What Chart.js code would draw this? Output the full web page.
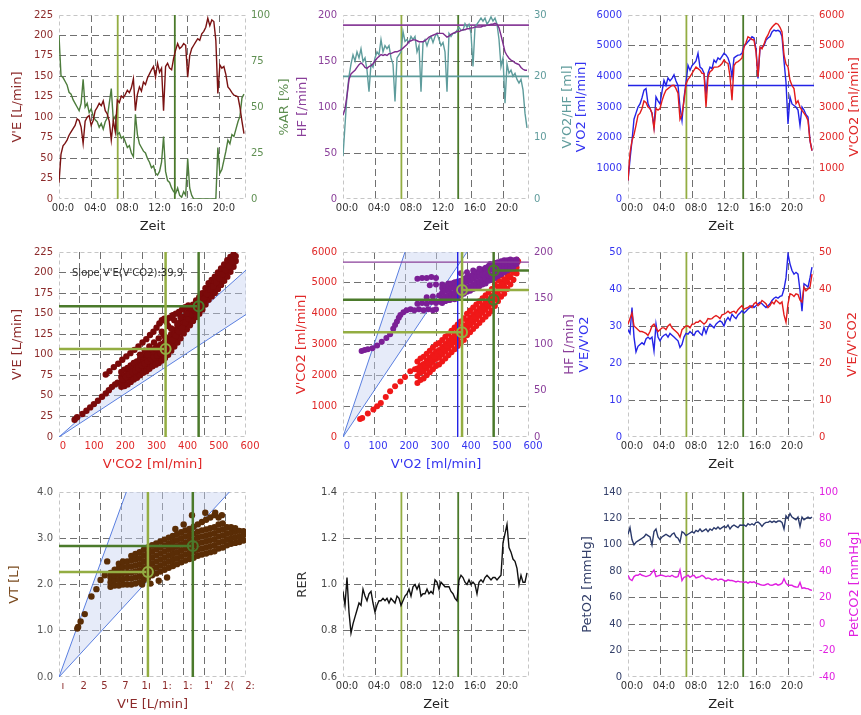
<!DOCTYPE html>
<html>
<head>
<meta charset="utf-8">
<script src="https://cdn.jsdelivr.net/npm/chart.js@4/dist/chart.umd.min.js"></script>
<style>
  body { margin: 0; width: 861px; height: 715px; overflow: hidden; position: relative; background: #fff; }
  canvas { position: absolute; }
</style>
</head>
<body>
<canvas id="p1"></canvas><canvas id="p2"></canvas><canvas id="p3"></canvas>
<canvas id="p4"></canvas><canvas id="p5"></canvas><canvas id="p6"></canvas>
<canvas id="p7"></canvas><canvas id="p8"></canvas><canvas id="p9"></canvas>
<script>
// time in minutes
const times = [0,0.25,0.5,0.75,1,1.25,1.5,1.75,2,2.25,2.5,2.75,3,3.25,3.5,3.75,4,4.25,4.5,4.75,5,5.25,5.5,5.75,6,6.25,6.5,6.75,7,7.25,7.5,7.75,8,8.25,8.5,8.75,9,9.25,9.5,9.75,10,10.25,10.5,10.75,11,11.25,11.5,11.75,12,12.25,12.5,12.75,13,13.25,13.5,13.75,14,14.25,14.5,14.75,15,15.25,15.5,15.75,16,16.25,16.5,16.75,17,17.25,17.5,17.75,18,18.25,18.5,18.75,19,19.25,19.5,19.75,20,20.25,20.5,20.75,21,21.25,21.5,21.75,22,22.25,22.5,22.75,23];

const ve = [20,55,65,68,72,78,82,86, 90,98,96,88,68,95,100,102, 90,96,108,112,117,114,120,108,
  104,95,72,96,82,121,118,126, 124,128,133,130,136,147,108,128, 137,132,143,140,148,153,158,162,
  149,166,155,160,108,162,166,160, 158,172,182,190,184,186,190,188, 149,175,184,188,192,196,194,202,
  205,210,221,212,219,217,194,129, 164,160,162,152,137,134,130,127, 126,125,112,95,80];
const ar = [89,67,66,64,62,58,57,54, 52,50,48,52,65,50,52,47, 49,45,43,42,39,41,38,42,
  44,52,60,43,45,35,36,33, 34,31,28,29,25,23,46,35, 30,28,26,25,22,20,17,18,
  14,13,15,20,34,15,10,9, 6,4,3,6,2,1,4,2, 22,6,2,0,0,0,0,0,
  0,0,0,0,0,0,0,28, 14,16,21,26,32,30,35,34, 38,42,45,55,57];
const hf = [91,98,112,130,136,138,140,143, 146,148,146,143,142,144,145,147, 150,153,155,157,156,157,156,158,
  158,159,160,160,161,162,164,166, 168,171,172,173,173,172,171,171, 171,172,174,176,177,178,179,180,
  180,180,180,178,176,177,179,180, 181,182,182,183,184,184,185,185, 186,186,187,187,187,187,188,188,
  189,189,190,190,191,190,186,178, 169,160,156,153,151,150,148,147, 146,143,141,140,140];
const vo2PerHf = [7,12,17,20,22,23.5,22.5,24, 23,24.5,22.4,23,21,17.5,22,21.5, 23,24,23.5,26,24,25,24.5,25,
  23,22,15.9,23,23.5,24,27.3,25.7, 26,25.5,26.5,26,26.5,24,25,17.5, 25.5,26,25,26,26.5,25.5,26.5,27,
  26,25,25.5,24,17.5,27,26.5,27, 27,27.5,28,27.5,27.5,28.6,28,28.5, 27,21.6,28,28.5,29,29.5,29,29.5,
  28.5,29,29.7,29,29.5,28.5,26,21.6, 23,15.6,22,20.5,21,20,20.5,19.5, 18.9,19.5,17.8,14,11.6];
const vo2 = [600,1300,1900,2600,2800,3000,3100,3300, 3550,3600,3110,2950,2800,2350,3330,3200,
  3100,3500,3870,3700,3950,3850,3930,4050, 3850,3700,3000,2560,3300,3800,4360,4200,
  4350,4420,4500,4750,4300,4250,4100,3400, 4100,4300,4250,4530,4450,4600,4550,4650,
  4750,4700,4600,4400,3980,4600,4650,4690, 4700,4750,5000,5050,5130,5200,5290,5250,
  4900,3930,4910,4950,5000,5180,5250,5300, 5450,5510,5480,5500,5460,5300,4500,3800,
  2450,3330,3100,3050,3000,2900,2400,3000, 2900,2750,2670,1900,1580];
const vco2 = [600,1500,1900,2100,2400,2730,2800,2950, 3200,3150,3000,2950,2800,2290,2950,2900,
  2950,3200,3400,3550,3600,3650,3700,3710, 3600,3450,2600,2750,3200,3750,3900,3980,
  4100,4200,4300,4250,4200,4100,4090,3000, 3980,4150,4200,4300,4300,4310,4350,4420,
  4530,4450,4420,4000,3220,4350,4450,4480, 4530,4600,4950,5100,5290,5250,5200,5180,
  4800,3980,4960,4900,5050,5240,5350,5510, 5600,5670,5730,5700,5600,5450,4700,4400,
  4310,3870,3700,3600,3110,3200,3000,2890, 2800,2700,2560,1900,1580];
const eqO2 = [29,28,35,27,23,24.5,25,25.5, 25,26.5,27,26.5,27,23.3,30.5,27, 26,27,27.5,27.8,27,28,27.5,27,
  26.5,26,24.2,25,27,28,27.8,28.5, 28,27.5,28.5,28.7,28,27.5,29.6,28, 29.6,30.5,30,29.5,30.5,31,31.4,31,
  30,31.5,32.3,31.5,33.2,32.5,32,33, 33.5,34.1,33.5,34,34.6,35,35.5,35, 35.5,36,36.4,36,35.5,35,35.5,36,
  36.9,37.5,37.8,37.5,38,38.2,40,43, 49.5,46.8,45,44,44.5,44,39.6,34, 41.4,41,40.5,43,45.9];
const eqCo2 = [30.5,32,33.5,30,29.5,29,28.5,28.5, 28.3,28,27.5,28.5,30,30.5,29.5,28.5, 29,29.5,29.5,29,30,30.5,29.5,29,
  28.5,28,27,29,29.5,30,30,29.5, 30.5,30.5,31,31,31.5,31,30.5,31, 32,31.9,32,32.5,32.8,32.5,32,33,
  33.2,33.5,34,33.5,33.8,34,33.5,34.4, 35,35.5,34.5,34.8,35,35.5,35,36, 36.4,35.5,36,36.9,36.5,36,35,35.5,
  36.5,36,37,36.5,36,36.5,33,31, 36,38.7,38.5,38,38.7,38.5,37,36.5, 40.5,39.5,40,40.5,44];
const rer = [0.97,0.91,1.03,0.88,0.79,0.83,0.86,0.89, 0.92,0.91,0.98,0.95,0.93,0.96,0.97,0.92,
  0.88,0.91,0.93,0.93,0.94,0.93,0.94,0.92, 0.94,0.93,0.92,0.95,0.94,0.91,0.93,0.95,
  0.96,0.98,0.95,0.99,1.00,0.98,1.00,0.95, 0.96,0.96,0.98,0.96,0.97,0.96,1.02,1.01,
  0.98,1.01,1.00,0.99,0.99,0.99,0.97,0.96, 0.94,0.93,1.02,1.04,1.03,1.01,1.00,1.02,
  1.00,1.01,1.00,0.96,1.01,1.02,1.01,1.03, 1.04,1.03,1.02,1.03,1.03,1.02,1.03,1.04,
  1.18,1.22,1.26,1.16,1.14,1.11,1.10,1.07, 1.00,1.04,1.01,1.01,1.05];
const petO2 = [108,113,104,100,102,103,104,105, 106,108,107,106,100,110,112,106, 104,106,107,108,107,106,108,109,
  106,105,102,110,109,107,108,109, 110,109,111,110,112,110,111,112, 110,112,111,113,112,113.5,112,113,
  114,113,115,112,114,115,114,113, 115,114.8,115,114,116,115,116,115, 117,117.3,116,114,116,117,117,118,
  117,118,117,118,118,117,112,122, 120,123.6,121,120,119,121,114,121, 119,120,121,120,121];
const petCo2 = [37,34,33,36,37,37,38,37, 36.5,36,36.5,37,39,41,36,36.5, 37,37,36.5,36,36.5,36,37,36,
  35.5,36,41,33,35.5,36,37,35.5, 36.5,37,35,35.5,36,37,36,34.4, 35,34.5,33.5,34,34.5,33.2,34,34,
  33,32.5,33.5,33,33,32.5,31.9,32.5, 32,32,31.5,32,31,32,31.5,32, 31,30.6,30,29.5,29.4,30,30.6,29.5,
  29.4,30,30.5,29.5,30,31,34.4,31, 29.4,29.5,29.4,28.5,28.1,28,31.5,27, 27.5,27,26.9,26,25.6];

// scatter clouds [x, y]
const veVsVco2 = [
  [50,21],[58,24],[75,28],[88,32],[100,36],[112,40],[125,44],[138,49],[150,53],[160,57],[170,61],[180,64],[188,66],
  [150,76],[162,80],[176,85],[190,89],[203,94],[216,98],[229,102],[242,106],[255,110],[268,115],[280,119],[292,124],[303,128],[313,133],[322,138],[330,142],[338,144],
  [200,61],[200,67],[200,73],[200,79],[210,62],[210,69],[210,75],[210,82],[220,64],[220,71],[220,77],[220,84],
  [230,67],[230,74],[230,80],[230,87],[240,70],[240,77],[240,83],[240,90],[250,72],[250,79],[250,85],[250,92],
  [260,75],[260,82],[260,88],[260,95],[270,78],[270,85],[270,91],[270,98],[280,80],[280,87],[280,93],[280,100],
  [290,83],[290,90],[290,96],[290,103],[300,86],[300,93],[300,99],[300,106],[310,88],[310,95],[310,101],[310,108],
  [320,90],[320,97],[320,103],[320,110],[330,93],[330,100],[330,106],[330,113],[340,96],[340,103],[340,109],[340,116],
  [350,100],[350,107],[350,113],[350,120],[360,105],[360,112],[360,118],[360,125],[370,110],[370,117],[370,123],[370,130],
  [380,115],[380,122],[380,128],[380,135],[390,120],[390,127],[390,133],[390,140],[400,126],[400,133],[400,139],[400,146],
  [410,131],[410,138],[410,144],[410,151],[420,136],[420,143],[420,149],[420,156],[430,141],[430,148],[430,154],[430,161],
  [440,146],[440,153],[440,159],[440,166],[450,150],[450,157],[450,163],[450,170],[460,155],[460,162],[460,168],[460,175],
  [470,161],[470,168],[470,174],[470,181],[480,167],[480,174],[480,180],[480,187],[490,171],[490,178],[490,184],[490,191],
  [500,175],[500,182],[500,188],[500,195],[510,180],[510,187],[510,193],[510,200],[520,185],[520,192],[520,198],[520,205],
  [530,190],[530,197],[530,203],[530,210],[540,195],[540,202],[540,208],[540,215],[550,201],[550,207],[550,213],[550,219],
  [560,207],[560,212],[560,218],[560,222],[567,214],[567,220],
  [205,70],[215,73],[225,76],[235,79],[245,81],[255,84],[265,87],[275,89],[285,92],[295,95],[305,97],[315,99],[325,102],
  [335,105],[345,108],[355,113],[365,118],[375,123],[385,128],[395,133],[405,139],[415,144],[425,149],[435,154],[445,158],
  [455,163],[465,168],[475,174],[485,179],[495,183],[505,188],[515,193],[525,198],[535,203],[545,208],[555,213],
  [260,100],[275,105],[290,110],[305,115],[320,120],[335,125],[285,100],[310,108],[325,112],
  [345,140],[355,145],[365,148],[375,150],[385,152],[395,155],[405,158],[415,160],[350,135],[370,142],[390,146],[410,150],[330,128],[340,122],[360,132],[380,138]
];
const vco2VsVo2 = [
  [55,580],[62,620],[80,760],[98,890],[110,1000],[122,1100],[138,1300],[152,1480],[168,1650],[185,1800],[200,1950],[217,2130],[232,2200],[250,2290],
  [240,1750],[240,1980],[240,2220],[240,2450],[250,1850],[250,2080],[250,2320],[250,2550],[260,1900],[260,2130],[260,2370],[260,2600],
  [270,2000],[270,2230],[270,2470],[270,2700],[280,2100],[280,2330],[280,2570],[280,2800],[290,2200],[290,2430],[290,2670],[290,2900],
  [300,2300],[300,2530],[300,2770],[300,3000],[310,2350],[310,2580],[310,2820],[310,3050],[320,2450],[320,2680],[320,2920],[320,3150],
  [330,2550],[330,2780],[330,3020],[330,3250],[340,2650],[340,2880],[340,3120],[340,3350],[350,2750],[350,2980],[350,3220],[350,3450],
  [360,2850],[360,3080],[360,3320],[360,3550],[370,2950],[370,3180],[370,3420],[370,3650],[380,3050],[380,3280],[380,3520],[380,3750],
  [390,3150],[390,3380],[390,3620],[390,3850],[400,3300],[400,3530],[400,3770],[400,4000],[410,3400],[410,3630],[410,3870],[410,4100],
  [420,3500],[420,3730],[420,3970],[420,4200],[430,3600],[430,3830],[430,4070],[430,4300],[440,3700],[440,3930],[440,4170],[440,4400],
  [450,3800],[450,4030],[450,4270],[450,4500],[460,3900],[460,4130],[460,4370],[460,4600],[470,4000],[470,4230],[470,4470],[470,4700],
  [480,4100],[480,4330],[480,4570],[480,4800],[490,4250],[490,4480],[490,4720],[490,4950],[500,4400],[500,4630],[500,4870],[500,5100],
  [510,4550],[510,4780],[510,5020],[510,5250],[520,4650],[520,4880],[520,5120],[520,5350],[530,4800],[530,5030],[530,5270],[530,5500],
  [540,4950],[540,5180],[540,5420],[540,5600],[550,5100],[550,5330],[550,5570],[550,5700],[560,5300],[560,5500],[560,5650],[560,5750],
  [245,2150],[255,2250],[265,2300],[275,2400],[285,2500],[295,2600],[305,2700],[315,2750],[325,2850],[335,2950],[345,3050],
  [355,3150],[365,3250],[375,3350],[385,3450],[395,3580],[405,3700],[415,3800],[425,3900],[435,4000],[445,4100],[455,4200],
  [465,4300],[475,4400],[485,4520],[495,4680],[505,4820],[515,4950],[525,5080],[535,5220],[545,5380],[555,5520],[565,5700]
];
const hfVsVo2 = [
  [60,93],[70,94],[80,95],[95,96],[110,99],[125,103],[140,107],[152,111],[162,117],[168,121],[174,125],[180,129],[185,132],[195,135],[205,137],[218,138],
  [230,137],[245,138],[260,137],[275,138],[290,137],[300,138],
  [240,144],[255,145],[270,144],[285,146],[300,145],[315,146],[330,147],[345,148],[360,149],
  [270,151],[290,152],[310,153],[330,152],[350,154],[370,155],[390,156],
  [240,171],[255,172],[270,172],[285,173],[300,172],
  [280,164],[300,165],[320,165],[340,166],[360,167],[380,168],[400,168],
  [320,145],[320,150],[320,156],[320,161],[330,147],[330,152],[330,158],[330,163],[340,148],[340,153],[340,159],[340,164],
  [350,150],[350,155],[350,161],[350,166],[360,151],[360,156],[360,162],[360,167],[370,152],[370,157],[370,163],[370,168],
  [380,153],[380,158],[380,164],[380,169],[390,155],[390,160],[390,166],[390,171],[400,157],[400,162],[400,168],[400,173],
  [410,158],[410,163],[410,169],[410,174],[420,160],[420,165],[420,171],[420,176],[430,162],[430,167],[430,173],[430,178],
  [440,163],[440,168],[440,174],[440,179],[450,165],[450,170],[450,176],[450,181],[460,166],[460,171],[460,177],[460,182],
  [470,169],[470,174],[470,180],[470,185],[480,170],[480,175],[480,181],[480,186],[490,172],[490,177],[490,183],[490,188],
  [500,174],[500,179],[500,184],[500,189],[510,176],[510,181],[510,186],[510,190],[520,178],[520,183],[520,187],[520,191],
  [530,180],[530,185],[530,189],[530,191],[540,182],[540,187],[540,190],[540,192],[550,184],[550,188],[550,191],[560,187],[560,190],[560,192],
  [380,177],[400,178],[420,180],[440,182],[460,183],[475,187],[495,188]
];
const vtVsVe = [
  [22,1.05],[23,1.08],[26,1.2],[31,1.36],[39,1.74],[45,1.9],[50,2.1],[55,2.2],[58,2.5],
  [62,1.95],[62,2.05],[62,2.15],[62,2.25],[67,1.98],[67,2.1],[67,2.2],[67,2.32],
  [72,1.98],[72,2.1],[72,2.22],[72,2.35],[72,2.45],[77,2.0],[77,2.12],[77,2.25],[77,2.38],[77,2.5],
  [82,2.0],[82,2.13],[82,2.25],[82,2.38],[82,2.5],[87,2.0],[87,2.13],[87,2.26],[87,2.39],[87,2.52],[87,2.62],
  [92,2.02],[92,2.15],[92,2.28],[92,2.41],[92,2.54],[92,2.66],[97,2.05],[97,2.18],[97,2.31],[97,2.44],[97,2.57],[97,2.7],
  [102,2.1],[102,2.23],[102,2.36],[102,2.49],[102,2.62],[102,2.75],[107,2.14],[107,2.27],[107,2.4],[107,2.53],[107,2.66],[107,2.8],
  [112,2.2],[112,2.33],[112,2.46],[112,2.59],[112,2.72],[112,2.85],[117,2.24],[117,2.37],[117,2.5],[117,2.63],[117,2.76],[117,2.89],
  [122,2.28],[122,2.41],[122,2.54],[122,2.67],[122,2.8],[122,2.93],[127,2.32],[127,2.45],[127,2.58],[127,2.71],[127,2.84],[127,2.97],
  [132,2.36],[132,2.49],[132,2.62],[132,2.75],[132,2.88],[132,3.01],[137,2.4],[137,2.53],[137,2.66],[137,2.79],[137,2.92],[137,3.05],
  [142,2.44],[142,2.57],[142,2.7],[142,2.83],[142,2.96],[142,3.09],[147,2.48],[147,2.61],[147,2.74],[147,2.87],[147,3.0],[147,3.13],
  [152,2.52],[152,2.65],[152,2.78],[152,2.91],[152,3.04],[152,3.17],[157,2.55],[157,2.68],[157,2.81],[157,2.94],[157,3.07],[157,3.2],
  [162,2.58],[162,2.71],[162,2.84],[162,2.97],[162,3.1],[162,3.25],[167,2.62],[167,2.75],[167,2.88],[167,3.01],[167,3.14],[167,3.3],
  [172,2.65],[172,2.78],[172,2.91],[172,3.04],[172,3.17],[172,3.35],[177,2.67],[177,2.8],[177,2.93],[177,3.06],[177,3.19],[177,3.4],
  [182,2.7],[182,2.83],[182,2.96],[182,3.09],[182,3.22],[182,3.45],[187,2.72],[187,2.85],[187,2.98],[187,3.11],[187,3.24],[187,3.5],
  [192,2.78],[192,2.91],[192,3.04],[192,3.17],[192,3.3],[192,3.45],[197,2.8],[197,2.93],[197,3.06],[197,3.19],[197,3.32],
  [202,2.85],[202,2.98],[202,3.11],[202,3.24],[207,2.88],[207,3.0],[207,3.12],[207,3.24],[212,2.9],[212,3.02],[212,3.14],[212,3.22],
  [217,2.92],[217,3.04],[217,3.16],[222,2.95],[222,3.07],[222,3.15],
  [100,2.0],[110,2.02],[120,2.08],[130,2.15],[160,3.5],[176,3.55],[188,3.55],[196,3.5],[150,3.3],[140,3.2]
];

// thresholds (VT1, VT2)
const vtTimes = [7.3, 14.4];
const vtVco2 = [342, 448];
const vtVe = [107, 159];
const vtVo2 = [384, 486];
const vtVco2AtVo2 = [3395, 4455];
const vtHf = [159, 180];
const vtVeX = [107, 161];
const vtVt = [2.27, 2.83];
const hfMax = 189;
const vo2PerHfRef = 20;
const vo2Ref = 3700;
const vo2RefScatter = 370;
const veSlopeEnds = [[600, 203], [600, 149]];
const vco2SlopeEnds = [[200, 6000], [400, 6000]];
const vtSlopeEnds = [[81, 4], [205, 4]];
const p7Labels = ["ı", "2", "5", "7", "1ı", "1:", "1:", "1'", "2(", "2:"];

const vt1Color = "#93ad42";
const vt2Color = "#4b7a2b";
const slopeColor = "#5a7fe0";
const shadeColor = "rgba(200,210,242,0.45)";

const colLeft = [0, 287, 574];
const wLeft = [59, 56, 54];
const wRight = [49, 53, 55];
const rowTop = [0, 238, 476];
const rowH = [238, 238, 239];
const padTop = [15, 14, 16];
const hX = [39, 39, 38];

Chart.defaults.font.family = "'DejaVu Sans', sans-serif";
Chart.defaults.font.size = 10;
Chart.defaults.color = "#333";

const decor = {
  id: "decor",
  beforeDatasetsDraw(chart) {
    const a = chart.chartArea, ctx = chart.ctx;
    ctx.save();
    ctx.strokeStyle = "#c6c6c6";
    ctx.lineWidth = 1;
    ctx.setLineDash([4, 3]);
    ctx.strokeRect(a.left + 0.5, a.top + 0.5, a.right - a.left - 1, a.bottom - a.top - 1);
    ctx.restore();
  },
  afterDraw(chart, args, opts) {
    const a = chart.chartArea, ctx = chart.ctx;
    (opts.titles || []).forEach((t) => {
      ctx.save();
      ctx.fillStyle = t.color;
      ctx.font = (t.size || 13) + "px 'DejaVu Sans'";
      ctx.textAlign = t.align || "center";
      ctx.textBaseline = "middle";
      let x = t.x, y = t.y;
      if (t.side === "bottom") { x = (a.left + a.right) / 2; y = a.bottom + 28; }
      if (t.side === "left" || t.side === "right") y = (a.top + a.bottom) / 2;
      ctx.translate(x, y);
      if (t.side === "left" || t.side === "right") ctx.rotate(-Math.PI / 2);
      ctx.fillText(t.text, 0, 0);
      ctx.restore();
    });
  },
};
Chart.register(decor);

function gridColor(c) {
  const s = c.scale, v = c.tick ? c.tick.value : NaN;
  const eps = (s.max - s.min) * 1e-3;
  if (Math.abs(v - s.min) < eps || Math.abs(v - s.max) < eps) return "rgba(0,0,0,0)";
  return "#707070";
}

function yAxis(col, min, max, step, color, fmt) {
  return {
    type: "linear", position: "left", min: min, max: max,
    afterFit: (s) => { s.width = wLeft[col]; },
    ticks: { stepSize: step, color: color, padding: 6, autoSkip: false, callback: fmt || ((v) => String(v)) },
    grid: { color: gridColor, drawTicks: false },
    border: { display: false, dash: [7, 4] },
  };
}

function y2Axis(col, min, max, step, color) {
  return {
    type: "linear", position: "right", min: min, max: max,
    afterFit: (s) => { s.width = wRight[col]; },
    ticks: { stepSize: step, color: color, padding: 5, autoSkip: false, callback: (v) => String(v) },
    grid: { display: false, drawTicks: false },
    border: { display: false },
  };
}

function xAxis(row, min, max, step, color, fmt, showGrid) {
  return {
    type: "linear", position: "bottom", min: min, max: max,
    afterFit: (s) => { s.height = hX[row]; },
    ticks: { stepSize: step, includeBounds: false, color: color, padding: 3, labelOffset: 4, maxRotation: 0, autoSkip: false, callback: fmt || ((v) => String(v)) },
    grid: { display: showGrid, color: gridColor, drawTicks: false },
    border: { display: false, dash: [7, 4] },
  };
}

function timeAxis(row) {
  return xAxis(row, 0, 23.25, 4, "#333", (v) => (v < 10 ? "0" : "") + v + ":0", true);
}

function gridOnlyAxis(min, max, step) {
  return {
    type: "linear", position: "bottom", min: min, max: max,
    afterFit: (s) => { s.height = 0; },
    ticks: { display: false, stepSize: step, includeBounds: false },
    grid: { color: gridColor, drawTicks: false },
    border: { display: false, dash: [7, 4] },
  };
}

function series(values, color, axis) {
  return {
    data: times.map((t, i) => ({ x: t, y: values[i] })),
    borderColor: color, borderWidth: 1.4, pointRadius: 0, yAxisID: axis || "y",
  };
}

function seg(x0, y0, x1, y1, color, width, axis) {
  return {
    data: [{ x: x0, y: y0 }, { x: x1, y: y1 }],
    borderColor: color, borderWidth: width, pointRadius: 0, yAxisID: axis || "y",
  };
}

function dots(pairs, color, radius, axis) {
  return {
    data: pairs.map((p) => ({ x: p[0], y: p[1] })),
    showLine: false, pointRadius: radius, pointBorderWidth: 0,
    pointBackgroundColor: color, borderColor: color, yAxisID: axis || "y",
  };
}

function ring(x, y, color, axis) {
  return {
    data: [{ x: x, y: y }], showLine: false, pointRadius: 5, pointBorderWidth: 2,
    pointBorderColor: color, pointBackgroundColor: "rgba(0,0,0,0)", yAxisID: axis || "y",
  };
}

function slopePair(endA, endB) {
  const a = {
    data: [{ x: 0, y: 0 }, { x: endA[0], y: endA[1] }],
    borderColor: slopeColor, borderWidth: 1, pointRadius: 0,
    segment: { borderColor: (c) => (c.p0.parsed.y === c.p1.parsed.y ? "rgba(0,0,0,0)" : slopeColor) },
  };
  if (endA[0] !== endB[0]) a.data.push({ x: endB[0], y: endA[1] });
  const b = {
    data: [{ x: 0, y: 0 }, { x: endB[0], y: endB[1] }],
    borderColor: slopeColor, borderWidth: 1, pointRadius: 0,
    fill: "-1", backgroundColor: shadeColor,
  };
  return [a, b];
}

function markers(yMin, yMax) {
  return [
    seg(vtTimes[0], yMin, vtTimes[0], yMax, vt1Color, 1.8),
    seg(vtTimes[1], yMin, vtTimes[1], yMax, vt2Color, 1.8),
  ];
}

function panel(id, col, row, datasets, scales, titles) {
  const cv = document.getElementById(id);
  cv.width = 295;
  cv.height = rowH[row];
  cv.style.left = colLeft[col] + "px";
  cv.style.top = rowTop[row] + "px";
  new Chart(cv, {
    type: "line",
    data: { datasets: datasets },
    options: {
      responsive: false,
      animation: false,
      events: [],
      layout: { padding: { top: padTop[row], left: 0, bottom: 0, right: scales.y2 ? 0 : wRight[col] } },
      scales: scales,
      plugins: { legend: { display: false }, tooltip: { enabled: false }, decor: { titles: titles } },
    },
  });
}

const zeit = { text: "Zeit", side: "bottom", color: "#222" };

// row 1
panel("p1", 0, 0,
  [series(ve, "#7a1212"), series(ar, "#4d7c3c", "y2")].concat(markers(0, 225)),
  { x: timeAxis(0), y: yAxis(0, 0, 225, 25, "#8c2b2b"), y2: y2Axis(0, 0, 100, 25, "#5f8f52") },
  [{ text: "V'E [L/min]", side: "left", x: 18, color: "#8c2b2b" },
   { text: "%AR [%]", side: "right", x: 285, color: "#5f8f52" }, zeit]);

panel("p2", 1, 0,
  [series(hf, "#7d2d8e"), series(vo2PerHf, "#5e9c9c", "y2"),
   seg(0, hfMax, 23.25, hfMax, "#8a3f9a", 1.6), seg(0, vo2PerHfRef, 23.25, vo2PerHfRef, "#5e9c9c", 1.6, "y2")].concat(markers(0, 200)),
  { x: timeAxis(0), y: yAxis(1, 0, 200, 50, "#8a3f9a"), y2: y2Axis(1, 0, 30, 10, "#609c9c") },
  [{ text: "HF [/min]", side: "left", x: 16, color: "#8a3f9a" },
   { text: "V'O2/HF [ml]", side: "right", x: 281, color: "#609c9c" }, zeit]);

panel("p3", 2, 0,
  [series(vco2, "#e31b1b", "y2"), series(vo2, "#2323e6"),
   seg(0, vo2Ref, 23.25, vo2Ref, "#2323e6", 1.6)].concat(markers(0, 6000)),
  { x: timeAxis(0), y: yAxis(2, 0, 6000, 1000, "#3434f0"), y2: y2Axis(2, 0, 6000, 1000, "#e02828") },
  [{ text: "V'O2 [ml/min]", side: "left", x: 8, color: "#3434f0" },
   { text: "V'CO2 [ml/min]", side: "right", x: 281, color: "#e02828" }, zeit]);

// row 2
panel("p4", 0, 1,
  [ring(vtVco2[0], vtVe[0], vt1Color), ring(vtVco2[1], vtVe[1], vt2Color),
   seg(vtVco2[0], 0, vtVco2[0], 225, vt1Color, 2.5), seg(0, vtVe[0], vtVco2[0] - 5, vtVe[0], vt1Color, 2.5),
   seg(vtVco2[1], 0, vtVco2[1], 225, vt2Color, 2.5), seg(0, vtVe[1], vtVco2[1] - 5, vtVe[1], vt2Color, 2.5),
   dots(veVsVco2, "#7a0a0a", 3.2)].concat(slopePair(veSlopeEnds[0], veSlopeEnds[1])),
  { x: xAxis(1, 0, 600, 100, "#e02828", null, false), xg: gridOnlyAxis(0, 600, 600 / 9), y: yAxis(0, 0, 225, 25, "#8c2b2b") },
  [{ text: "V'E [L/min]", side: "left", x: 18, color: "#8c2b2b" },
   { text: "V'CO2 [ml/min]", side: "bottom", color: "#e02828" },
   { text: "Slope V'E(V'CO2):39,9", x: 72, y: 35, size: 10, align: "left", color: "#333" }]);

panel("p5", 1, 1,
  [ring(vtVo2[0], vtVco2AtVo2[0], vt1Color), ring(vtVo2[1], vtVco2AtVo2[1], vt2Color),
   ring(vtVo2[0], vtHf[0], vt1Color, "y2"), ring(vtVo2[1], vtHf[1], vt2Color, "y2"),
   seg(vtVo2[0], 0, vtVo2[0], 6000, vt1Color, 2.5), seg(vtVo2[1], 0, vtVo2[1], 6000, vt2Color, 2.5),
   seg(0, vtVco2AtVo2[0], vtVo2[0], vtVco2AtVo2[0], vt1Color, 2.5), seg(0, vtVco2AtVo2[1], vtVo2[1], vtVco2AtVo2[1], vt2Color, 2.5),
   seg(vtVo2[0], vtHf[0], 600, vtHf[0], vt1Color, 2.5, "y2"), seg(vtVo2[1], vtHf[1], 600, vtHf[1], vt2Color, 2.5, "y2"),
   seg(vo2RefScatter, 0, vo2RefScatter, 6000, "#2323e6", 1.4),
   seg(0, hfMax, 600, hfMax, "#8a3f9a", 1.2, "y2"),
   dots(hfVsVo2, "#7b1f96", 3, "y2"), dots(vco2VsVo2, "#f01818", 3)].concat(slopePair(vco2SlopeEnds[0], vco2SlopeEnds[1])),
  { x: xAxis(1, 0, 600, 100, "#3434f0", null, true), y: yAxis(1, 0, 6000, 1000, "#e02828"), y2: y2Axis(1, 0, 200, 50, "#8a3f9a") },
  [{ text: "V'CO2 [ml/min]", side: "left", x: 15, color: "#e02828" },
   { text: "HF [/min]", side: "right", x: 283, color: "#8a3f9a" },
   { text: "V'O2 [ml/min]", side: "bottom", color: "#3434f0" }]);

panel("p6", 2, 1,
  [series(eqCo2, "#e31b1b", "y2"), series(eqO2, "#2323e6")].concat(markers(0, 50)),
  { x: timeAxis(1), y: yAxis(2, 0, 50, 10, "#3434f0"), y2: y2Axis(2, 0, 50, 10, "#e02828") },
  [{ text: "V'E/V'O2", side: "left", x: 11, color: "#3434f0" },
   { text: "V'E/V'CO2", side: "right", x: 279, color: "#e02828" }, zeit]);

// row 3
panel("p7", 0, 2,
  [ring(vtVeX[0], vtVt[0], vt1Color), ring(vtVeX[1], vtVt[1], vt2Color),
   seg(vtVeX[0], 0, vtVeX[0], 4, vt1Color, 2.5), seg(0, vtVt[0], vtVeX[0] - 2, vtVt[0], vt1Color, 2.5),
   seg(vtVeX[1], 0, vtVeX[1], 4, vt2Color, 2.5), seg(0, vtVt[1], vtVeX[1] - 2, vtVt[1], vt2Color, 2.5),
   dots(vtVsVe, "#5a2d06", 3.2)].concat(slopePair(vtSlopeEnds[0], vtSlopeEnds[1])),
  { x: xAxis(2, 0, 225, 25, "#8c2b2b", (v) => p7Labels[Math.round(v / 25)], true), y: yAxis(0, 0, 4, 1, "#555", (v) => v.toFixed(1)) },
  [{ text: "VT [L]", side: "left", x: 15, color: "#7a4a1e" },
   { text: "V'E [L/min]", side: "bottom", color: "#8c2b2b" }]);

panel("p8", 1, 2,
  [series(rer, "#111")].concat(markers(0.6, 1.4)),
  { x: timeAxis(2), y: yAxis(1, 0.6, 1.4, 0.2, "#444", (v) => v.toFixed(1)) },
  [{ text: "RER", side: "left", x: 16, color: "#333" }, zeit]);

panel("p9", 2, 2,
  [series(petO2, "#2b3a6b"), series(petCo2, "#e01ee0", "y2")].concat(markers(0, 140)),
  { x: timeAxis(2), y: yAxis(2, 0, 140, 20, "#34406a"), y2: y2Axis(2, -40, 100, 20, "#e020e0") },
  [{ text: "PetO2 [mmHg]", side: "left", x: 14, color: "#34406a" },
   { text: "PetCO2 [mmHg]", side: "right", x: 281, color: "#e020e0" }, zeit]);
</script>
</body>
</html>
